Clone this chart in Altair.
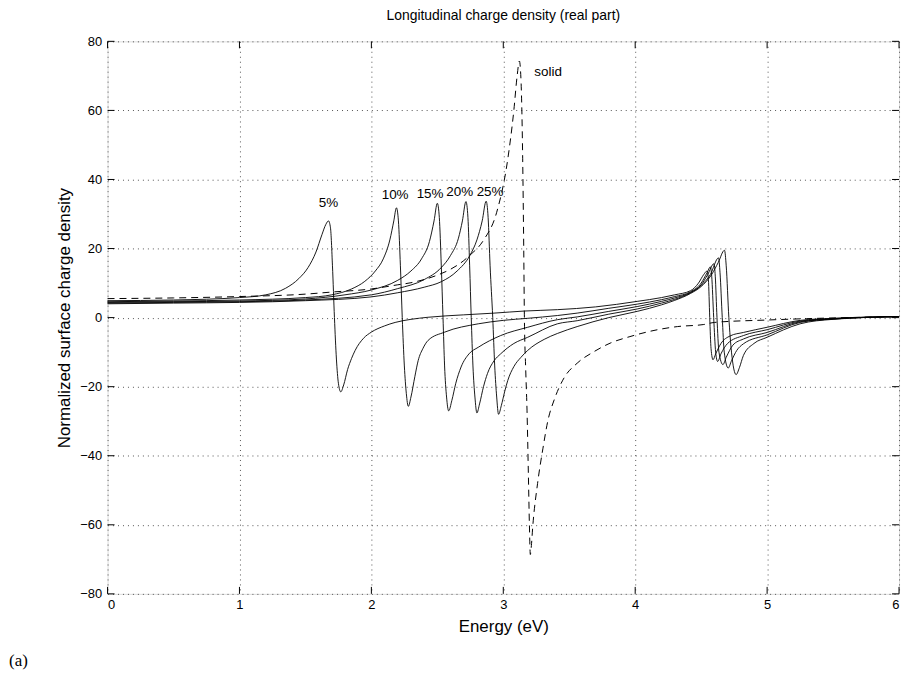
import altair as alt
import pandas as pd

# ---- data (Energy eV, normalized density) ----
p05 = [(0.0,4.9),(0.5,5.1),(1.0,5.8),(1.2,6.6),(1.35,8.5),(1.45,11.3),(1.52,14.5),(1.58,19.0),
       (1.625,24.0),(1.655,27.0),(1.675,28.0),(1.69,26.0),(1.705,15.0),(1.72,0.0),(1.735,-12.0),
       (1.75,-19.0),(1.768,-21.5),(1.79,-19.5),(1.82,-15.0),(1.85,-11.8),(1.877,-9.5),(1.94,-6.0),
       (2.0,-4.2),(2.1,-2.4),(2.18,-1.4),(2.3,-0.5),(2.43,0.1),(2.7,0.8),(2.93,1.3),(3.16,1.9),
       (3.41,2.3),(3.7,3.1),(4.015,4.7),(4.2,5.8),(4.3,6.6),(4.42,7.8),(4.48,10.0),(4.52,12.5),
       (4.545,13.5),(4.555,11.0),(4.565,0.0),(4.575,-9.0),(4.59,-12.2),(4.61,-10.5),(4.65,-7.5),
       (4.72,-5.3),(4.82,-4.3),(5.0,-2.8),(5.25,-0.8),(5.5,-0.2),(6.0,0.3)]

p10 = [(0.0,4.6),(0.5,4.8),(1.0,5.1),(1.5,5.8),(1.7,6.6),(1.85,8.3),(1.95,10.5),(2.03,13.5),
       (2.09,17.0),(2.14,22.5),(2.17,28.0),(2.19,31.8),(2.205,28.0),(2.22,15.0),(2.234,0.0),
       (2.25,-14.0),(2.265,-22.0),(2.28,-25.7),(2.30,-23.0),(2.33,-17.0),(2.355,-12.4),(2.39,-9.0),
       (2.43,-6.6),(2.556,-4.2),(2.81,-1.8),(3.0,-0.8),(3.185,-0.2),(3.41,0.6),(3.56,1.3),(3.8,2.7),
       (4.015,3.9),(4.2,5.2),(4.3,6.1),(4.42,7.5),(4.5,10.0),(4.545,13.0),(4.57,14.7),(4.58,12.0),
       (4.595,0.0),(4.61,-10.0),(4.625,-12.7),(4.65,-10.5),(4.7,-7.5),(4.82,-5.2),(5.0,-3.5),
       (5.25,-1.0),(5.5,-0.3),(6.0,0.3)]

p15 = [(0.0,4.4),(0.5,4.6),(1.0,4.8),(1.5,5.4),(1.8,6.6),(2.0,8.0),(2.2,10.8),(2.3,13.5),
       (2.38,17.0),(2.44,22.0),(2.475,28.0),(2.50,33.1),(2.515,29.0),(2.53,15.0),(2.543,0.0),
       (2.555,-14.0),(2.57,-23.0),(2.586,-27.0),(2.61,-24.0),(2.64,-19.0),(2.68,-14.3),(2.74,-10.5),
       (2.81,-8.6),(2.98,-5.2),(3.185,-2.8),(3.41,-0.6),(3.56,0.2),(3.8,1.8),(4.015,3.2),(4.2,4.7),
       (4.3,5.7),(4.42,7.3),(4.5,9.5),(4.55,12.5),(4.597,15.6),(4.607,12.0),(4.62,0.0),(4.635,-10.0),
       (4.665,-13.6),(4.69,-11.5),(4.74,-8.0),(4.82,-6.2),(5.0,-4.3),(5.25,-1.2),(5.5,-0.4),(6.0,0.3)]

p20 = [(0.0,4.2),(0.5,4.4),(1.0,4.6),(1.5,5.1),(2.0,6.6),(2.2,8.4),(2.4,11.0),(2.53,14.5),
       (2.6,18.0),(2.66,23.0),(2.69,28.0),(2.717,33.6),(2.732,29.0),(2.745,15.0),(2.757,0.0),
       (2.77,-14.0),(2.785,-23.0),(2.80,-27.6),(2.82,-25.0),(2.85,-20.0),(2.88,-16.2),(2.93,-12.5),
       (2.98,-10.5),(3.08,-7.5),(3.185,-5.7),(3.41,-1.8),(3.56,-0.9),(3.8,1.0),(4.015,2.5),(4.2,4.2),
       (4.3,5.3),(4.42,7.2),(4.5,9.3),(4.57,12.5),(4.632,17.3),(4.643,13.0),(4.66,0.0),(4.675,-10.0),
       (4.705,-14.6),(4.73,-12.5),(4.77,-9.5),(4.82,-7.6),(5.0,-5.0),(5.25,-1.4),(5.5,-0.4),(6.0,0.3)]

p25 = [(0.0,4.0),(0.5,4.2),(1.0,4.4),(1.5,4.9),(2.0,6.0),(2.2,7.2),(2.4,8.8),(2.53,10.4),
       (2.65,13.5),(2.745,17.9),(2.8,22.5),(2.84,28.0),(2.87,33.7),(2.885,29.0),(2.90,15.0),
       (2.92,0.0),(2.935,-14.0),(2.95,-23.0),(2.964,-28.0),(2.985,-25.5),(3.01,-21.5),(3.034,-18.2),
       (3.08,-14.2),(3.134,-11.5),(3.185,-9.5),(3.31,-6.3),(3.41,-4.6),(3.56,-2.6),(3.8,0.0),
       (4.015,1.8),(4.2,3.7),(4.3,5.0),(4.42,7.0),(4.5,9.0),(4.58,12.5),(4.63,16.0),(4.677,19.5),
       (4.69,15.0),(4.71,0.0),(4.73,-10.0),(4.765,-16.5),(4.79,-14.5),(4.82,-11.0),(4.9,-7.5),
       (5.0,-5.7),(5.25,-1.8),(5.5,-0.5),(6.0,0.3)]

p_solid = [(0.0,5.5),(0.5,5.7),(1.0,6.1),(1.5,6.8),(1.7,7.4),(2.0,8.3),(2.2,9.5),(2.3,10.1),
           (2.5,12.3),(2.6,14.0),(2.7,16.5),(2.745,18.0),(2.85,22.4),(2.95,30.5),(3.034,45.9),
           (3.08,60.0),(3.105,70.0),(3.122,74.3),(3.135,68.0),(3.147,46.0),(3.155,20.0),(3.16,0.0),
           (3.17,-15.0),(3.18,-27.0),(3.19,-45.0),(3.198,-60.0),(3.205,-68.6),(3.213,-66.0),
           (3.223,-60.7),(3.26,-48.0),(3.30,-38.0),(3.34,-29.5),(3.386,-23.8),(3.46,-17.5),
           (3.56,-13.2),(3.69,-9.8),(3.81,-7.4),(3.96,-5.5),(4.17,-3.5),(4.32,-2.6),(4.52,-2.0),
           (4.6,-1.4),(5.0,-0.7),(5.3,-0.3),(5.5,-0.1),(6.0,0.3)]

series_names = ["5%", "10%", "15%", "20%", "25%"]
series_points = [p05, p10, p15, p20, p25]

label_text = ["5%", "10%", "15%", "20%", "25%", "solid"]
label_x = [1.675, 2.18, 2.445, 2.67, 2.9, 3.34]
label_y = [33.3, 35.6, 35.9, 36.5, 36.5, 71.0]

x_ticks = [0, 1, 2, 3, 4, 5, 6]
y_ticks = [-80, -60, -40, -20, 0, 20, 40, 60, 80]

# ---- build tables ----
rows = []
for name, pts in zip(series_names, series_points):
    for i, (xv, yv) in enumerate(pts):
        rows.append({"series": name, "i": i, "x": xv, "y": yv})
df_thin = pd.DataFrame(rows)
df_solid = pd.DataFrame([{"i": i, "x": xv, "y": yv} for i, (xv, yv) in enumerate(p_solid)])
df_lab = pd.DataFrame({"t": label_text, "x": label_x, "y": label_y})
df_xt = pd.DataFrame({"v": x_ticks})
df_yt = pd.DataFrame({"v": y_ticks})

W, H = 795, 555
FONT = "Liberation Sans"

xs = alt.Scale(domain=[0, 6], nice=False, zero=False)
ys = alt.Scale(domain=[-80, 80], nice=False, zero=False)

x_axis = alt.Axis(values=x_ticks, format="d", title="Energy (eV)", grid=True, gridDash=[1, 4],
                  gridColor="#555555", gridWidth=1, domain=False, ticks=False,
                  labelPadding=5, labelFontSize=13, labelColor="black", labelFont=FONT,
                  titleFont=FONT, titleFontSize=17, titleFontWeight="normal",
                  titleColor="black", titlePadding=7)
y_axis = alt.Axis(values=y_ticks, format="d", title="Normalized surface charge density", grid=True,
                  gridDash=[1, 4], gridColor="#555555", gridWidth=1, domain=False,
                  ticks=False, labelPadding=6, labelFontSize=13, labelColor="black",
                  labelFont=FONT, titleFont=FONT, titleFontSize=17,
                  titleFontWeight="normal", titleColor="black", titlePadding=6)

thin = alt.Chart(df_thin).mark_line(color="black", strokeWidth=0.9, interpolate="monotone").encode(
    x=alt.X("x:Q", scale=xs, axis=x_axis),
    y=alt.Y("y:Q", scale=ys, axis=y_axis),
    detail="series:N",
    order="i:Q",
)

solid = alt.Chart(df_solid).mark_line(color="black", strokeWidth=1.0, strokeDash=[7, 5],
                                      interpolate="monotone").encode(
    x=alt.X("x:Q", scale=xs),
    y=alt.Y("y:Q", scale=ys),
    order="i:Q",
)

labels = alt.Chart(df_lab).mark_text(font=FONT, fontSize=13.5, color="black").encode(
    x=alt.X("x:Q", scale=xs), y=alt.Y("y:Q", scale=ys), text="t:N"
)

TL = 7
xt_bottom = alt.Chart(df_xt).mark_rule(color="black", strokeWidth=1).encode(
    x=alt.X("v:Q", scale=xs), y=alt.value(H), y2=alt.value(H - TL))
xt_top = alt.Chart(df_xt).mark_rule(color="black", strokeWidth=1).encode(
    x=alt.X("v:Q", scale=xs), y=alt.value(0), y2=alt.value(TL))
yt_left = alt.Chart(df_yt).mark_rule(color="black", strokeWidth=1).encode(
    y=alt.Y("v:Q", scale=ys), x=alt.value(0), x2=alt.value(TL))
yt_right = alt.Chart(df_yt).mark_rule(color="black", strokeWidth=1).encode(
    y=alt.Y("v:Q", scale=ys), x=alt.value(W), x2=alt.value(W - TL))

panel_tag = alt.Chart(pd.DataFrame({"t": ["(a)"]})).mark_text(
    font="Liberation Serif", fontSize=17, color="black", align="left"
).encode(x=alt.value(-99), y=alt.value(622), text="t:N")

chart = alt.layer(thin, solid, labels, xt_bottom, xt_top, yt_left, yt_right, panel_tag).properties(
    width=W, height=H,
    title=alt.TitleParams("Longitudinal charge density (real part)", font=FONT, fontSize=14,
                          fontWeight="normal", color="black", anchor="middle", offset=12),
    padding={"left": 100, "top": 32, "right": 5, "bottom": 80},
    autosize=alt.AutoSizeParams(type="none"),
).configure_view(stroke="black", strokeWidth=1).configure(background="white")

chart.save("out.html", embed_options={"renderer": "svg", "actions": False})
